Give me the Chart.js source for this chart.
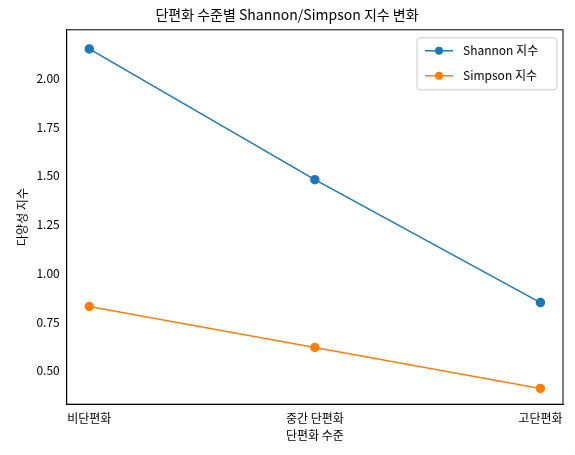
<!DOCTYPE html>
<html>
<head>
<meta charset="utf-8">
<script src="https://cdn.jsdelivr.net/npm/chart.js@4"></script>
<style>
  body { margin: 0; background: #fff; }
  #wrap { width: 575px; height: 455px; }
</style>
</head>
<body>
<div id="wrap"><canvas id="chart"></canvas></div>
<script>
// 데이터
const levels = ['비단편화', '중간 단편화', '고단편화'];
const shannon = [2.15, 1.48, 0.85];
const simpson = [0.83, 0.62, 0.41];
const yTicks = [0.5, 0.75, 1.0, 1.25, 1.5, 1.75, 2.0];

const FONT = '"Noto Sans CJK KR", "Noto Sans", sans-serif';
Chart.defaults.font.family = FONT;
Chart.defaults.color = '#000';

const toPoints = arr => arr.map((v, i) => ({ x: i, y: v }));

new Chart(document.getElementById('chart'), {
  type: 'line',
  data: {
    datasets: [
      {
        label: 'Shannon 지수',
        data: toPoints(shannon),
        borderColor: '#1f77b4',
        backgroundColor: '#1f77b4',
        borderWidth: 1.5,
        pointRadius: 4,
        pointHoverRadius: 4
      },
      {
        label: 'Simpson 지수',
        data: toPoints(simpson),
        borderColor: '#ff7f0e',
        backgroundColor: '#ff7f0e',
        borderWidth: 1.5,
        pointRadius: 4,
        pointHoverRadius: 4
      }
    ]
  },
  options: {
    responsive: true,
    maintainAspectRatio: false,
    animation: false,
    layout: { padding: { top: 0, right: 12, bottom: 12, left: 11 } },
    plugins: {
      title: {
        display: true,
        text: '단편화 수준별 Shannon/Simpson 지수 변화',
        font: { size: 14, weight: 'normal' },
        padding: { top: 6, bottom: 7 }
      },
      legend: { display: false },
      tooltip: { enabled: false }
    },
    scales: {
      x: {
        type: 'linear',
        min: -0.1,
        max: 2.1,
        afterBuildTicks: axis => { axis.ticks = levels.map((_, i) => ({ value: i })); },
        ticks: { callback: v => levels[v], font: { size: 12 } },
        grid: { display: false, drawTicks: true, tickLength: 4 },
        border: { color: '#000' },
        title: { display: true, text: '단편화 수준', font: { size: 12 }, padding: 0 }
      },
      y: {
        min: 0.329,
        max: 2.248,
        afterBuildTicks: axis => { axis.ticks = yTicks.map(v => ({ value: v })); },
        ticks: { callback: v => v.toFixed(2), font: { size: 12 } },
        grid: { display: false, drawTicks: true, tickLength: 4 },
        border: { color: '#000' },
        title: { display: true, text: '다양성 지수', font: { size: 12 } }
      }
    }
  },
  plugins: [{
    id: 'frameLegend',
    afterDraw(chart) {
      const { ctx, chartArea: a } = chart;
      ctx.save();
      ctx.strokeStyle = '#000';
      ctx.lineWidth = 1;
      ctx.strokeRect(a.left, a.top, a.right - a.left, a.bottom - a.top);

      // 범례 (오른쪽 위)
      const w = 140, h = 52;
      const bx = a.right - 6 - w, by = a.top + 8;
      ctx.fillStyle = 'rgba(255,255,255,0.8)';
      ctx.strokeStyle = '#ccc';
      ctx.beginPath();
      ctx.roundRect(bx, by, w, h, 3);
      ctx.fill();
      ctx.stroke();
      ctx.font = '12px ' + FONT;
      ctx.textBaseline = 'middle';
      chart.data.datasets.forEach((ds, i) => {
        const y = by + 13 + i * 25;
        ctx.strokeStyle = ds.borderColor;
        ctx.lineWidth = 1.5;
        ctx.beginPath();
        ctx.moveTo(bx + 8, y);
        ctx.lineTo(bx + 36, y);
        ctx.stroke();
        ctx.fillStyle = ds.backgroundColor;
        ctx.beginPath();
        ctx.arc(bx + 22, y, 4, 0, Math.PI * 2);
        ctx.fill();
        ctx.fillStyle = '#000';
        ctx.fillText(ds.label, bx + 46, y);
      });
      ctx.restore();
    }
  }]
});
</script>
</body>
</html>
